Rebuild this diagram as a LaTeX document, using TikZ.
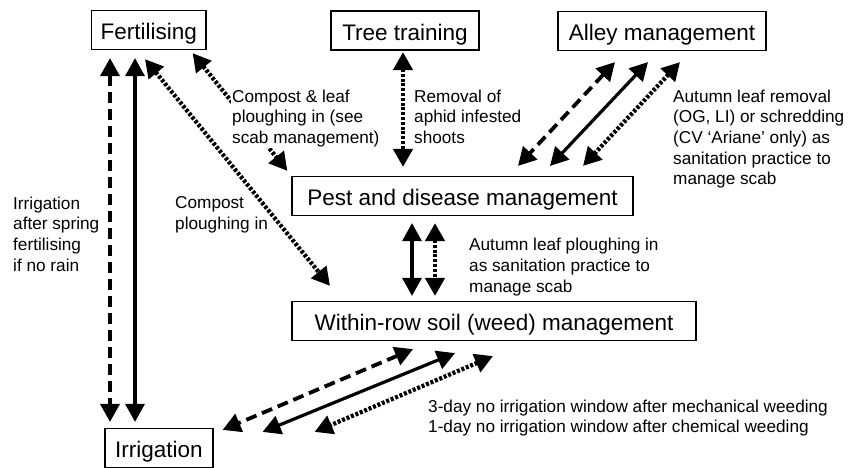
\documentclass[tikz,border=0pt]{standalone}
\usepackage{fontspec}
\setmainfont{Liberation Sans}
\usetikzlibrary{arrows.meta}
\tikzset{
  box/.style={draw, line width=1.2pt, inner xsep=0pt, inner ysep=0pt,
    font=\fontsize{22.5}{26}\selectfont, text height=29pt, text depth=10pt},
  lab/.style={align=left, inner sep=0pt, anchor=north west,
    font=\fontsize{17.2}{20.7}\selectfont},
  tips/.style={{Triangle[length=18pt,width=19pt]}-{Triangle[length=18pt,width=19pt]}},
  solidarr/.style={tips, line width=3.2pt},
  dasharr/.style={tips, line width=3.8pt, dash pattern=on 11pt off 6pt},
  dotarr/.style={tips, line width=4.3pt, dash pattern=on 3pt off 1.8pt},
}
\begin{document}
\begin{tikzpicture}[x=1pt,y=-1pt]
\useasboundingbox (0,0) rectangle (857,467);

% boxes
\node[box, minimum width=114.5pt] (fert) at (148.75,30) {Fertilising};
\node[box, minimum width=148pt] (tree) at (405,30.5) {Tree training};
\node[box, minimum width=208pt] (alley) at (662,31) {Alley management};
\node[box, minimum width=341pt] (pest) at (462.5,196) {Pest and disease management};
\node[box, minimum width=404pt] (weed) at (494,321) {Within-row soil (weed) management};
\node[box, minimum width=108pt] (irr) at (159,448) {Irrigation};

% Fertilising -- Irrigation
\draw[dasharr] ([xshift=-38.75pt,yshift=-8pt]fert.south) -- ([xshift=-49pt,yshift=6pt]irr.north);
\draw[solidarr] ([xshift=-13.75pt,yshift=-8pt]fert.south) -- ([xshift=-24pt,yshift=6pt]irr.north);

% Fertilising -- Within-row (compost ploughing in)
\draw[dotarr] ([xshift=-3.75pt,yshift=-9pt]fert.south) -- ([xshift=-164pt,yshift=15pt]weed.north);

% Fertilising -- Pest
\draw[dotarr] ([xshift=-14pt,yshift=-3pt]fert.south east) -- ([xshift=-4pt,yshift=5pt]pest.north west);

% Tree training -- Pest
\draw[dotarr] ([xshift=-2pt,yshift=-1.5pt]tree.south) -- ([xshift=-59.5pt,yshift=9pt]pest.north);

% Alley -- Pest
\draw[dasharr] ([xshift=-47pt,yshift=-11pt]alley.south) -- ([xshift=55.5pt,yshift=10pt]pest.north);
\draw[solidarr] ([xshift=-14pt,yshift=-11pt]alley.south) -- ([xshift=87.5pt,yshift=10pt]pest.north);
\draw[dotarr] ([xshift=18pt,yshift=-11pt]alley.south) -- ([xshift=120.5pt,yshift=10pt]pest.north);

% Pest -- Within-row
\draw[solidarr] ([xshift=-50.5pt,yshift=-7pt]pest.south) -- ([xshift=-82pt,yshift=5pt]weed.north);
\draw[dotarr] ([xshift=-27.5pt,yshift=-7pt]pest.south) -- ([xshift=-59pt,yshift=5pt]weed.north);

% Within-row -- Irrigation
\draw[dasharr] ([xshift=-81pt,yshift=-8pt]weed.south) -- ([xshift=9pt,yshift=-2pt]irr.north east);
\draw[solidarr] ([xshift=-39pt,yshift=-12pt]weed.south) -- ([xshift=49pt,yshift=-4pt]irr.north east);
\draw[dotarr] ([xshift=-1pt,yshift=-15pt]weed.south) -- ([xshift=101pt,yshift=-4pt]irr.north east);

% labels
\node[lab, fill=white, inner sep=1pt] (l1) at (231,88.5) {Compost \& leaf\\ploughing in (see\\scab management)};
\node[lab] (l2) at (414,89.5) {Removal of\\aphid infested\\shoots};
\node[lab] (l3) at (673,89.5) {Autumn leaf removal\\(OG, LI) or schredding\\(CV ‘Ariane’ only) as\\sanitation practice to\\manage scab};
\node[lab] (l4) at (175,196.5) {Compost\\ploughing in};
\node[lab] (l5) at (13,196.5) {Irrigation\\after spring\\fertilising\\if no rain};
\node[lab] (l6) at (469,238) {Autumn leaf ploughing in\\as sanitation practice to\\manage scab};
\node[lab] (l7) at (428,399.5) {3-day no irrigation window after mechanical weeding\\1-day no irrigation window after chemical weeding};
\end{tikzpicture}
\end{document}
